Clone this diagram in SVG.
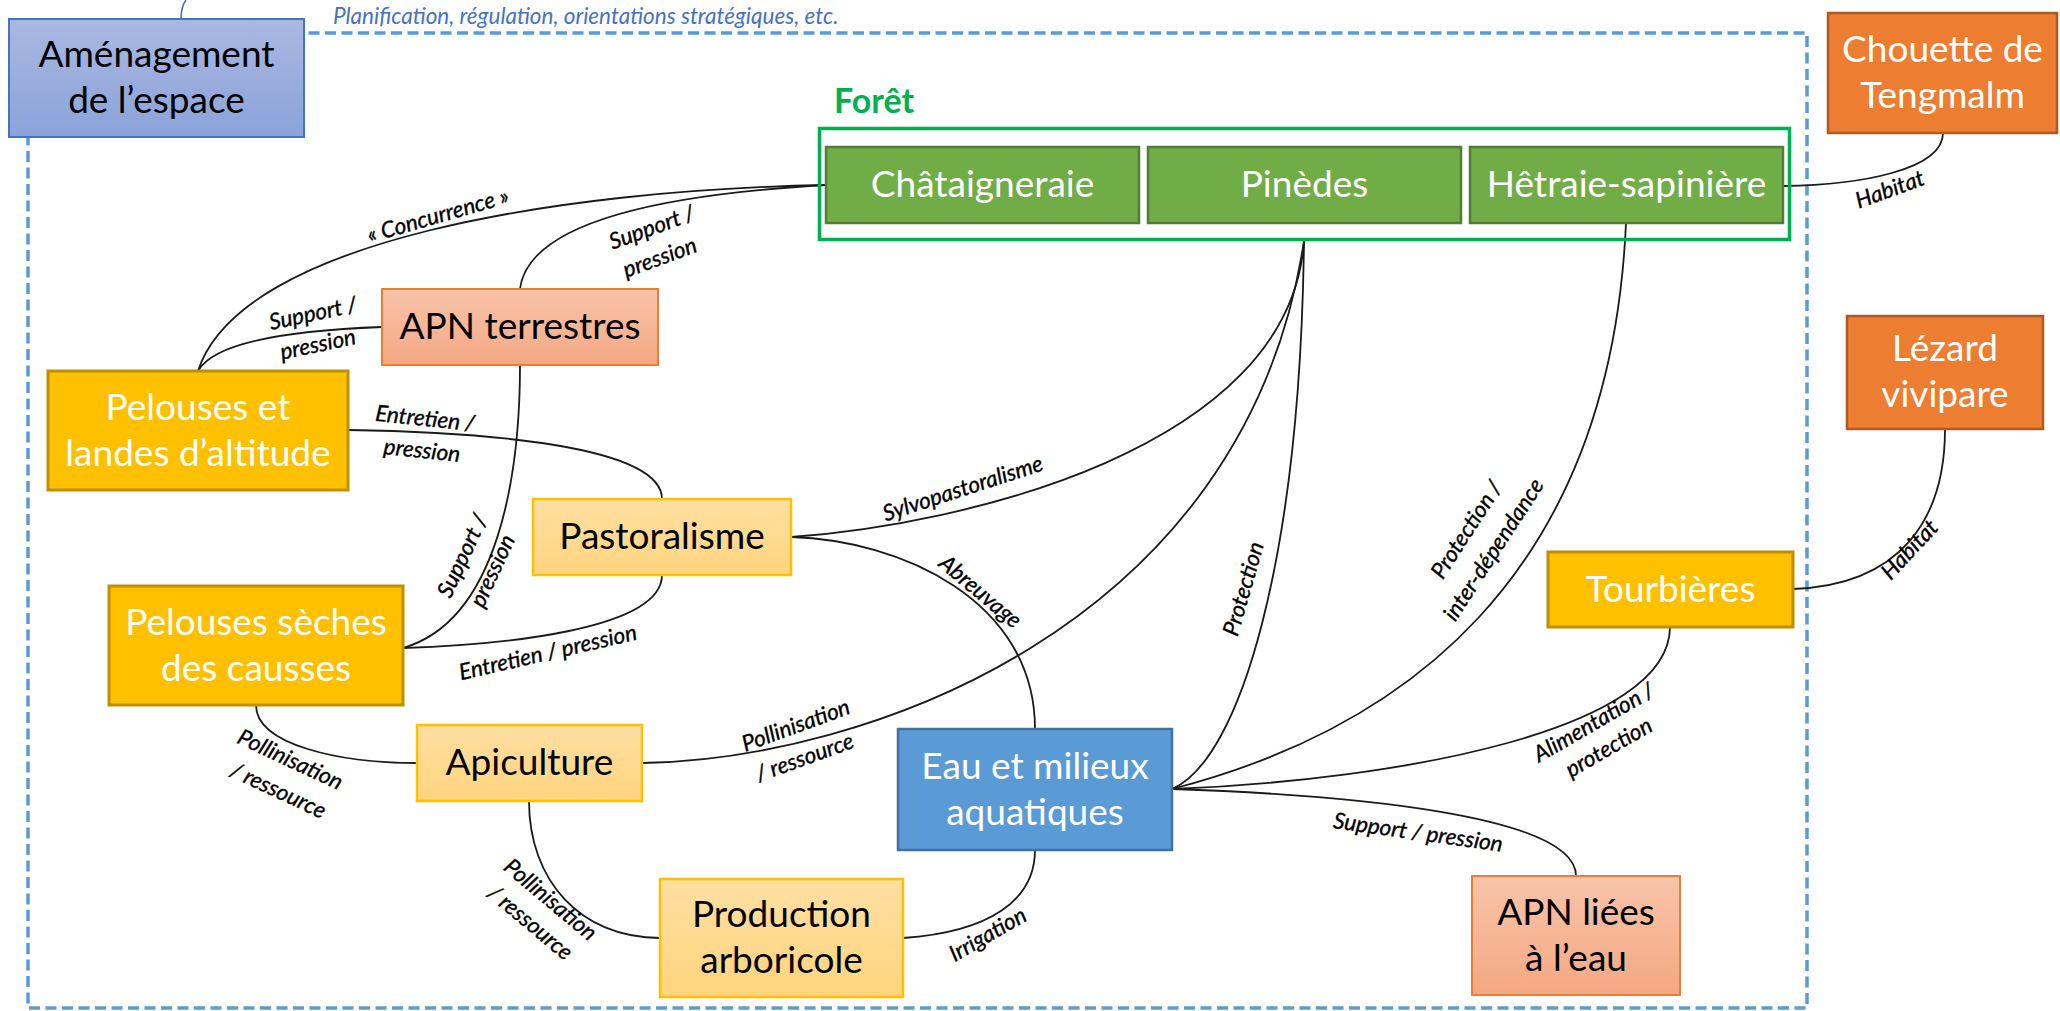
<svg xmlns="http://www.w3.org/2000/svg" width="2060" height="1011" viewBox="0 0 2060 1011">
<defs>
<linearGradient id="gAmen" x1="0" y1="0" x2="0" y2="1"><stop offset="0" stop-color="#A9B8E1"/><stop offset="1" stop-color="#8BA3DA"/></linearGradient>
<linearGradient id="gApn" x1="0" y1="0" x2="0" y2="1"><stop offset="0" stop-color="#F8C4AA"/><stop offset="1" stop-color="#F4A882"/></linearGradient>
<linearGradient id="gAct" x1="0" y1="0" x2="0" y2="1"><stop offset="0" stop-color="#FFDFA2"/><stop offset="1" stop-color="#FFD47E"/></linearGradient>
<style>
.nt{font-family:Lato,"Liberation Sans",sans-serif;font-size:37px;text-anchor:middle}
.w{fill:#FFFFFF}
.k{fill:#000000}
.lb{font-family:Lato,"Liberation Sans",sans-serif;font-style:italic;font-size:22.5px;text-anchor:middle;fill:#000;stroke:#000;stroke-width:0.35}
.cn{fill:none;stroke:#1A1A1A;stroke-width:1.8;stroke-linecap:round}
.green{fill:#70AD47;stroke:#507E32;stroke-width:2.5}
.yel{fill:#FFC000;stroke:#BF9000;stroke-width:3}
.act{fill:url(#gAct);stroke:#FFC000;stroke-width:2.5}
.apn{fill:url(#gApn);stroke:#ED7D31;stroke-width:2}
.ora{fill:#ED7D31;stroke:#AE5A21;stroke-width:2.5}
</style>
</defs>
<rect width="2060" height="1011" fill="#FFFFFF"/>
<g id="frame-amenagement">
<rect x="28" y="33" width="1779" height="975" fill="none" stroke="#5B9BD5" stroke-width="3.5" stroke-dasharray="11 5.5"/>
<path d="M181,19 C181,10 183,4 186,0" fill="none" stroke="#4472C4" stroke-width="1.6"/>
<text x="333" y="24" font-family="Lato,'Liberation Sans',sans-serif" font-style="italic" font-size="22.5" fill="#4472C4">Planification, régulation, orientations stratégiques, etc.</text>
</g>
<g id="connectors">
<path class="cn" d="M826,185 C560,190 240,240 198,371"/>
<path class="cn" d="M826,185 C650,195 528,225 520,289"/>
<path class="cn" d="M382,327 C300,330 215,340 198,371"/>
<path class="cn" d="M348,430 C480,432 662,445 662,499"/>
<path class="cn" d="M520,365 C520,470 500,620 403,648"/>
<path class="cn" d="M403,648 C500,645 662,630 662,575"/>
<path class="cn" d="M256,705 C256,745 340,763 417,763"/>
<path class="cn" d="M529,801 C529,880 580,938 660,938"/>
<path class="cn" d="M642,763 C860,760 1245,630 1304,241"/>
<path class="cn" d="M791,537 C960,525 1290,450 1304,241"/>
<path class="cn" d="M791,537 C900,540 1035,600 1035,729"/>
<path class="cn" d="M1172,789 C1240,760 1300,560 1304,241"/>
<path class="cn" d="M1172,789 C1400,730 1610,580 1626,223"/>
<path class="cn" d="M1172,789 C1400,780 1670,730 1670,627"/>
<path class="cn" d="M1172,789 C1350,795 1576,815 1576,876"/>
<path class="cn" d="M903,938 C990,932 1035,900 1035,850"/>
<path class="cn" d="M1783,186 C1860,185 1943,170 1943,133"/>
<path class="cn" d="M1793,589 C1900,585 1945,520 1945,429"/>
<text class="lb" transform="translate(438,216) rotate(-16)" y="7">« Concurrence »</text>
<text class="lb" transform="translate(652,228) rotate(-20)" y="7">Support /</text>
<text class="lb" transform="translate(660,258) rotate(-20)" y="7">pression</text>
<text class="lb" transform="translate(313,314) rotate(-12)" y="7">Support /</text>
<text class="lb" transform="translate(318,345) rotate(-12)" y="7">pression</text>
<text class="lb" transform="translate(425,419) rotate(6)" y="7">Entretien /</text>
<text class="lb" transform="translate(422,451) rotate(6)" y="7">pression</text>
<text class="lb" transform="translate(463,556) rotate(-65)" y="7">Support /</text>
<text class="lb" transform="translate(493,571) rotate(-65)" y="7">pression</text>
<text class="lb" transform="translate(548,653) rotate(-13)" y="7">Entretien / pression</text>
<text class="lb" transform="translate(290,760) rotate(25)" y="7">Pollinisation</text>
<text class="lb" transform="translate(278,791) rotate(25)" y="7">/ ressource</text>
<text class="lb" transform="translate(550,900) rotate(40)" y="7">Pollinisation</text>
<text class="lb" transform="translate(530,923) rotate(40)" y="7">/ ressource</text>
<text class="lb" transform="translate(796,726) rotate(-20)" y="7">Pollinisation</text>
<text class="lb" transform="translate(805,758) rotate(-20)" y="7">/ ressource</text>
<text class="lb" transform="translate(963,489) rotate(-18)" y="7">Sylvopastoralisme</text>
<text class="lb" transform="translate(980,592) rotate(40)" y="7">Abreuvage</text>
<text class="lb" transform="translate(1244,589) rotate(-74)" y="7">Protection</text>
<text class="lb" transform="translate(1467,530) rotate(-57)" y="7">Protection /</text>
<text class="lb" transform="translate(1494,550) rotate(-57)" y="7">inter-dépendance</text>
<text class="lb" transform="translate(1594,723) rotate(-30)" y="7">Alimentation /</text>
<text class="lb" transform="translate(1609,748) rotate(-30)" y="7">protection</text>
<text class="lb" transform="translate(1418,833) rotate(8)" y="7">Support / pression</text>
<text class="lb" transform="translate(988,935) rotate(-30)" y="7">Irrigation</text>
<text class="lb" transform="translate(1890,190) rotate(-20)" y="7">Habitat</text>
<text class="lb" transform="translate(1910,550) rotate(-47)" y="7">Habitat</text>
</g>
<g id="node-amenagement">
<rect x="9" y="19" width="295" height="118" fill="url(#gAmen)" stroke="#4472C4" stroke-width="2"/>
<text class="nt k" x="156.5" y="67">Aménagement</text>
<text class="nt k" x="156.5" y="113">de l’espace</text>
</g>
<g id="node-foret">
<text x="834" y="113" font-family="Lato,'Liberation Sans',sans-serif" font-weight="bold" font-size="34" fill="#00B050">Forêt</text>
<rect x="819.5" y="128.5" width="970" height="111" fill="none" stroke="#00B050" stroke-width="3.5"/>
</g>
<g id="node-chataigneraie">
<rect class="green" x="826" y="147" width="313" height="76"/>
<text class="nt w" x="982.5" y="197">Châtaigneraie</text>
</g>
<g id="node-pinedes">
<rect class="green" x="1148" y="147" width="313" height="76"/>
<text class="nt w" x="1304.5" y="197">Pinèdes</text>
</g>
<g id="node-hetraie">
<rect class="green" x="1470" y="147" width="313" height="76"/>
<text class="nt w" x="1626.5" y="197">Hêtraie-sapinière</text>
</g>
<g id="node-chouette">
<rect class="ora" x="1828" y="13" width="229" height="120"/>
<text class="nt w" x="1942.5" y="62">Chouette de</text>
<text class="nt w" x="1942.5" y="108">Tengmalm</text>
</g>
<g id="node-lezard">
<rect class="ora" x="1847" y="316" width="196" height="113"/>
<text class="nt w" x="1945" y="361">Lézard</text>
<text class="nt w" x="1945" y="407">vivipare</text>
</g>
<g id="node-apn-terrestres">
<rect class="apn" x="382" y="289" width="276" height="76"/>
<text class="nt k" x="520" y="339">APN terrestres</text>
</g>
<g id="node-pelouses-altitude">
<rect class="yel" x="48" y="371" width="300" height="119"/>
<text class="nt w" x="198" y="419.5">Pelouses et</text>
<text class="nt w" x="198" y="465.5">landes d’altitude</text>
</g>
<g id="node-pastoralisme">
<rect class="act" x="533" y="499" width="258" height="76"/>
<text class="nt k" x="662" y="549">Pastoralisme</text>
</g>
<g id="node-pelouses-causses">
<rect class="yel" x="109" y="586" width="294" height="119"/>
<text class="nt w" x="256" y="634.5">Pelouses sèches</text>
<text class="nt w" x="256" y="680.5">des causses</text>
</g>
<g id="node-apiculture">
<rect class="act" x="417" y="725" width="225" height="76"/>
<text class="nt k" x="529.5" y="775">Apiculture</text>
</g>
<g id="node-eau">
<rect x="898" y="729" width="274" height="121" fill="#5B9BD5" stroke="#41719C" stroke-width="2.5"/>
<text class="nt w" x="1035" y="778.5">Eau et milieux</text>
<text class="nt w" x="1035" y="824.5">aquatiques</text>
</g>
<g id="node-production">
<rect class="act" x="660" y="879" width="243" height="118"/>
<text class="nt k" x="781.5" y="927">Production</text>
<text class="nt k" x="781.5" y="973">arboricole</text>
</g>
<g id="node-tourbieres">
<rect class="yel" x="1548" y="552" width="245" height="75"/>
<text class="nt w" x="1670.5" y="601.5">Tourbières</text>
</g>
<g id="node-apn-eau">
<rect class="apn" x="1472" y="876" width="208" height="119"/>
<text class="nt k" x="1576" y="924.5">APN liées</text>
<text class="nt k" x="1576" y="970.5">à l’eau</text>
</g>
</svg>
